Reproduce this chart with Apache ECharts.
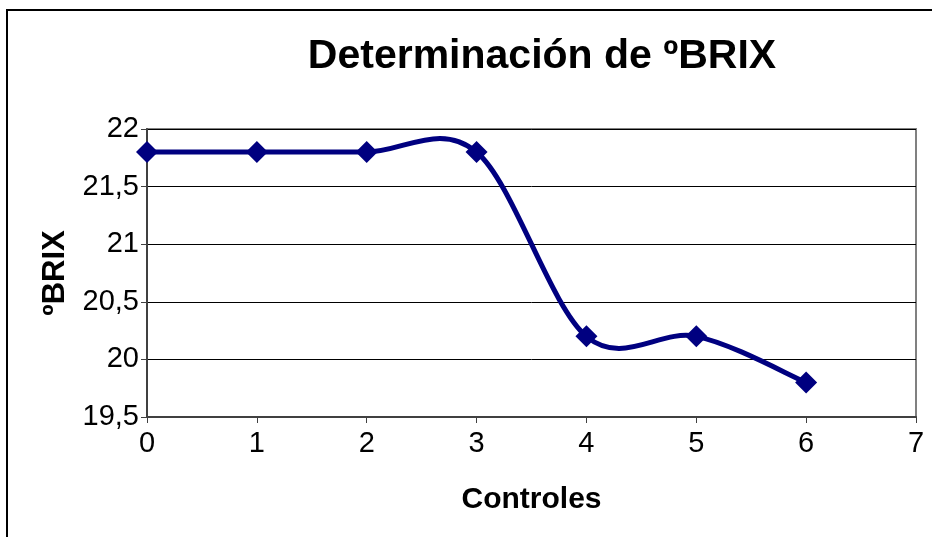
<!DOCTYPE html>
<html>
<head>
<meta charset="utf-8">
<script src="https://cdn.jsdelivr.net/npm/echarts@6/dist/echarts.min.js"></script>
<style>
  html, body { margin: 0; padding: 0; background: #fff; }
  #brixChart { width: 932px; height: 537px; }
</style>
</head>
<body>
<div id="brixChart"></div>
<script>
  // controles (eje x) y lecturas de ºBRIX
  var controles = [0, 1, 2, 3, 4, 5, 6];
  var brix = [21.8, 21.8, 21.8, 21.8, 20.2, 20.2, 19.8];

  var chart = echarts.init(document.getElementById('brixChart'));

  var points = [];
  for (var i = 0; i < controles.length; i++) {
    points.push([controles[i], brix[i]]);
  }

  var font = 'Liberation Sans, Arial, sans-serif';
  var navy = '#000080';

  // curva suavizada tipo Excel (Catmull-Rom) entre el punto i y el i+1
  function renderSegment(params, api) {
    var i = params.dataIndex;
    if (i >= points.length - 1) {
      return { type: 'group', children: [] };
    }
    var p0 = api.coord(points[Math.max(i - 1, 0)]);
    var p1 = api.coord(points[i]);
    var p2 = api.coord(points[i + 1]);
    var p3 = api.coord(points[Math.min(i + 2, points.length - 1)]);
    return {
      type: 'bezierCurve',
      shape: {
        x1: p1[0], y1: p1[1],
        x2: p2[0], y2: p2[1],
        cpx1: p1[0] + (p2[0] - p0[0]) / 6,
        cpy1: p1[1] + (p2[1] - p0[1]) / 6,
        cpx2: p2[0] - (p3[0] - p1[0]) / 6,
        cpy2: p2[1] - (p3[1] - p1[1]) / 6
      },
      style: { stroke: navy, lineWidth: 5, fill: null }
    };
  }

  var option = {
    backgroundColor: '#fff',
    animation: false,
    title: {
      text: 'Determinación de ºBRIX',
      left: 537,
      textAlign: 'center',
      top: 31,
      textStyle: {
        fontFamily: font,
        fontSize: 41,
        fontWeight: 'bold',
        color: '#000'
      }
    },
    graphic: [{
      type: 'rect',
      shape: { x: 7, y: 10, width: 1200, height: 800 },
      style: { fill: null, stroke: '#000', lineWidth: 2 },
      silent: true
    }],
    grid: {
      left: 147,
      right: 16,
      top: 129,
      bottom: 120,
      show: true,
      borderColor: '#808080',
      borderWidth: 2,
      backgroundColor: '#fff'
    },
    xAxis: {
      type: 'value',
      min: 0,
      max: 7,
      interval: 1,
      name: 'Controles',
      nameLocation: 'middle',
      nameGap: 68,
      nameTextStyle: {
        fontFamily: font,
        fontSize: 30,
        fontWeight: 'bold',
        color: '#000'
      },
      axisLine: { show: true, onZero: false, lineStyle: { color: '#404040', width: 2 } },
      axisTick: { show: true, length: 6, lineStyle: { color: '#404040', width: 1 } },
      axisLabel: {
        margin: 12,
        fontFamily: font,
        fontSize: 29,
        color: '#000'
      },
      splitLine: { show: false }
    },
    yAxis: {
      type: 'value',
      min: 19.5,
      max: 22,
      interval: 0.5,
      name: 'ºBRIX',
      nameLocation: 'middle',
      nameGap: 76,
      nameTextStyle: {
        fontFamily: font,
        fontSize: 31,
        fontWeight: 'bold',
        color: '#000'
      },
      axisLine: { show: true, onZero: false, lineStyle: { color: '#404040', width: 2 } },
      axisTick: { show: true, length: 6, lineStyle: { color: '#404040', width: 1 } },
      axisLabel: {
        margin: 8,
        fontFamily: font,
        fontSize: 29,
        color: '#000',
        formatter: function (v) {
          return String(v).replace('.', ',');
        }
      },
      splitLine: { show: true, lineStyle: { color: '#000', width: 1 } }
    },
    series: [{
      type: 'custom',
      renderItem: renderSegment,
      data: points,
      z: 2
    }, {
      type: 'scatter',
      data: points,
      symbol: 'diamond',
      symbolSize: 22,
      itemStyle: { color: navy, opacity: 1 },
      z: 3
    }]
  };

  chart.setOption(option);
</script>
</body>
</html>
